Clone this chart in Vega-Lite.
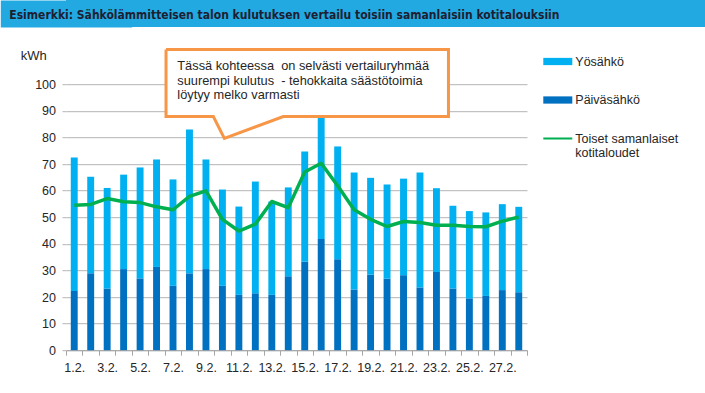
{
  "$schema": "https://vega.github.io/schema/vega-lite/v6.json",
  "padding": 0,
  "background": "#ffffff",
  "columns": 1,
  "spacing": 16.2,
  "config": {
    "view": {"stroke": null},
    "font": "Liberation Sans",
    "axisX": {
      "tickBand": "extent", "labelAngle": 0, "labelOverlap": false,
      "domainColor": "#a6a6a6", "tickColor": "#a6a6a6", "tickSize": 5, "labelPadding": 6,
      "labelFontSize": 12.5, "labelColor": "#262626", "labelFont": "Liberation Sans", "grid": false
    },
    "axisY": {
      "titleAngle": 0, "titleX": -45.7, "titleY": -29, "titleAlign": "left", "titleBaseline": "middle",
      "titleFontSize": 13, "titleFontWeight": "normal", "titleColor": "#262626", "titleFont": "Liberation Sans",
      "grid": true, "gridColor": "#b4b4b4", "domain": false, "ticks": true, "tickSize": 4,
      "tickColor": "#b4b4b4", "labelFontSize": 12.5, "labelColor": "#262626", "labelFont": "Liberation Sans",
      "labelPadding": 6.5, "minExtent": 65.7
    }
  },
  "datasets": {
    "bars": [
      {"day": "1.2.", "type": "Päiväsähkö", "kwh": 22.3}, {"day": "1.2.", "type": "Yösähkö", "kwh": 50.1},
      {"day": "2.2.", "type": "Päiväsähkö", "kwh": 28.9}, {"day": "2.2.", "type": "Yösähkö", "kwh": 36.3},
      {"day": "3.2.", "type": "Päiväsähkö", "kwh": 23.2}, {"day": "3.2.", "type": "Yösähkö", "kwh": 37.8},
      {"day": "4.2.", "type": "Päiväsähkö", "kwh": 30.5}, {"day": "4.2.", "type": "Yösähkö", "kwh": 35.5},
      {"day": "5.2.", "type": "Päiväsähkö", "kwh": 27.0}, {"day": "5.2.", "type": "Yösähkö", "kwh": 41.7},
      {"day": "6.2.", "type": "Päiväsähkö", "kwh": 31.3}, {"day": "6.2.", "type": "Yösähkö", "kwh": 40.4},
      {"day": "7.2.", "type": "Päiväsähkö", "kwh": 24.2}, {"day": "7.2.", "type": "Yösähkö", "kwh": 40.0},
      {"day": "8.2.", "type": "Päiväsähkö", "kwh": 28.9}, {"day": "8.2.", "type": "Yösähkö", "kwh": 54.1},
      {"day": "9.2.", "type": "Päiväsähkö", "kwh": 30.5}, {"day": "9.2.", "type": "Yösähkö", "kwh": 41.2},
      {"day": "10.2.", "type": "Päiväsähkö", "kwh": 24.2}, {"day": "10.2.", "type": "Yösähkö", "kwh": 36.2},
      {"day": "11.2.", "type": "Päiväsähkö", "kwh": 20.8}, {"day": "11.2.", "type": "Yösähkö", "kwh": 33.2},
      {"day": "12.2.", "type": "Päiväsähkö", "kwh": 21.4}, {"day": "12.2.", "type": "Yösähkö", "kwh": 42.0},
      {"day": "13.2.", "type": "Päiväsähkö", "kwh": 20.8}, {"day": "13.2.", "type": "Yösähkö", "kwh": 35.1},
      {"day": "14.2.", "type": "Päiväsähkö", "kwh": 27.8}, {"day": "14.2.", "type": "Yösähkö", "kwh": 33.4},
      {"day": "15.2.", "type": "Päiväsähkö", "kwh": 33.3}, {"day": "15.2.", "type": "Yösähkö", "kwh": 41.4},
      {"day": "16.2.", "type": "Päiväsähkö", "kwh": 41.8}, {"day": "16.2.", "type": "Yösähkö", "kwh": 46.2},
      {"day": "17.2.", "type": "Päiväsähkö", "kwh": 34.2}, {"day": "17.2.", "type": "Yösähkö", "kwh": 42.4},
      {"day": "18.2.", "type": "Päiväsähkö", "kwh": 22.8}, {"day": "18.2.", "type": "Yösähkö", "kwh": 44.0},
      {"day": "19.2.", "type": "Päiväsähkö", "kwh": 28.4}, {"day": "19.2.", "type": "Yösähkö", "kwh": 36.4},
      {"day": "20.2.", "type": "Päiväsähkö", "kwh": 26.9}, {"day": "20.2.", "type": "Yösähkö", "kwh": 35.4},
      {"day": "21.2.", "type": "Päiväsähkö", "kwh": 28.2}, {"day": "21.2.", "type": "Yösähkö", "kwh": 36.3},
      {"day": "22.2.", "type": "Päiväsähkö", "kwh": 23.6}, {"day": "22.2.", "type": "Yösähkö", "kwh": 43.2},
      {"day": "23.2.", "type": "Päiväsähkö", "kwh": 29.4}, {"day": "23.2.", "type": "Yösähkö", "kwh": 31.5},
      {"day": "24.2.", "type": "Päiväsähkö", "kwh": 23.2}, {"day": "24.2.", "type": "Yösähkö", "kwh": 31.1},
      {"day": "25.2.", "type": "Päiväsähkö", "kwh": 19.5}, {"day": "25.2.", "type": "Yösähkö", "kwh": 32.8},
      {"day": "26.2.", "type": "Päiväsähkö", "kwh": 20.4}, {"day": "26.2.", "type": "Yösähkö", "kwh": 31.4},
      {"day": "27.2.", "type": "Päiväsähkö", "kwh": 22.6}, {"day": "27.2.", "type": "Yösähkö", "kwh": 32.3},
      {"day": "28.2.", "type": "Päiväsähkö", "kwh": 21.8}, {"day": "28.2.", "type": "Yösähkö", "kwh": 32.1}
    ],
    "line": [
      {"day": "1.2.", "type": "Toiset samanlaiset kotitaloudet", "kwh": 54.5},
      {"day": "2.2.", "type": "Toiset samanlaiset kotitaloudet", "kwh": 54.8},
      {"day": "3.2.", "type": "Toiset samanlaiset kotitaloudet", "kwh": 57.0},
      {"day": "4.2.", "type": "Toiset samanlaiset kotitaloudet", "kwh": 55.8},
      {"day": "5.2.", "type": "Toiset samanlaiset kotitaloudet", "kwh": 55.5},
      {"day": "6.2.", "type": "Toiset samanlaiset kotitaloudet", "kwh": 53.9},
      {"day": "7.2.", "type": "Toiset samanlaiset kotitaloudet", "kwh": 52.8},
      {"day": "8.2.", "type": "Toiset samanlaiset kotitaloudet", "kwh": 57.8},
      {"day": "9.2.", "type": "Toiset samanlaiset kotitaloudet", "kwh": 59.9},
      {"day": "10.2.", "type": "Toiset samanlaiset kotitaloudet", "kwh": 49.2},
      {"day": "11.2.", "type": "Toiset samanlaiset kotitaloudet", "kwh": 44.8},
      {"day": "12.2.", "type": "Toiset samanlaiset kotitaloudet", "kwh": 47.4},
      {"day": "13.2.", "type": "Toiset samanlaiset kotitaloudet", "kwh": 55.9},
      {"day": "14.2.", "type": "Toiset samanlaiset kotitaloudet", "kwh": 53.6},
      {"day": "15.2.", "type": "Toiset samanlaiset kotitaloudet", "kwh": 67.0},
      {"day": "16.2.", "type": "Toiset samanlaiset kotitaloudet", "kwh": 70.3},
      {"day": "17.2.", "type": "Toiset samanlaiset kotitaloudet", "kwh": 61.8},
      {"day": "18.2.", "type": "Toiset samanlaiset kotitaloudet", "kwh": 52.8},
      {"day": "19.2.", "type": "Toiset samanlaiset kotitaloudet", "kwh": 49.2},
      {"day": "20.2.", "type": "Toiset samanlaiset kotitaloudet", "kwh": 46.5},
      {"day": "21.2.", "type": "Toiset samanlaiset kotitaloudet", "kwh": 48.4},
      {"day": "22.2.", "type": "Toiset samanlaiset kotitaloudet", "kwh": 48.0},
      {"day": "23.2.", "type": "Toiset samanlaiset kotitaloudet", "kwh": 47.0},
      {"day": "24.2.", "type": "Toiset samanlaiset kotitaloudet", "kwh": 47.0},
      {"day": "25.2.", "type": "Toiset samanlaiset kotitaloudet", "kwh": 46.5},
      {"day": "26.2.", "type": "Toiset samanlaiset kotitaloudet", "kwh": 46.4},
      {"day": "27.2.", "type": "Toiset samanlaiset kotitaloudet", "kwh": 48.5},
      {"day": "28.2.", "type": "Toiset samanlaiset kotitaloudet", "kwh": 50.1}
    ],
    "callout": [
      {"i": 0, "x": 6.075, "y": 113.05},
      {"i": 1, "x": 23.23, "y": 113.05},
      {"i": 2, "x": 23.23, "y": 87.86},
      {"i": 3, "x": 13.2, "y": 87.86},
      {"i": 4, "x": 9.62, "y": 79.59},
      {"i": 5, "x": 8.95, "y": 87.86},
      {"i": 6, "x": 6.075, "y": 87.86},
      {"i": 7, "x": 6.075, "y": 113.05}
    ],
    "box": [{"x1": 6.075, "x2": 23.23, "y1": 87.86, "y2": 113.05}],
    "note": [{"x": 6.76, "y": 109.0, "note": "Tässä kohteessa \u00a0on selvästi vertailuryhmää\nsuurempi kulutus \u00a0- tehokkaita säästötoimia\nlöytyy melko varmasti"}]
  },
  "concat": [
    {
      "width": 639.3,
      "height": 27,
      "view": {"fill": "#22a9e1", "stroke": null},
      "title": {
        "text": "Esimerkki: Sähkölämmitteisen talon kulutuksen vertailu toisiin samanlaisiin kotitalouksiin",
        "anchor": "start",
        "frame": "group",
        "orient": "top",
        "offset": 0,
        "dx": -56.7,
        "dy": 27,
        "baseline": "middle",
        "font": "Liberation Sans Narrow, DejaVu Sans Condensed, sans-serif",
        "fontSize": 12,
        "fontWeight": "bold",
        "color": "#1e1e32",
        "zindex": 1
      },
      "data": {"values": [{"osa": "otsikko"}]},
      "mark": {"type": "rect", "opacity": 0},
      "encoding": {
        "y": {
          "field": "osa", "type": "nominal",
          "axis": {
            "title": null, "labels": false, "ticks": false, "grid": false,
            "domain": true, "domainColor": "#22a9e1", "domainWidth": 131.4,
            "domainCap": "butt", "minExtent": 0
          }
        }
      }
    },
    {
      "width": 461,
      "height": 266,
      "resolve": {"scale": {"x": "independent"}},
      "layer": [
        {
          "layer": [
            {
              "data": {"name": "bars"},
              "mark": {"type": "bar", "width": {"band": 0.42}},
              "encoding": {
                "x": {
                  "field": "day", "type": "ordinal", "sort": null,
                  "scale": {"paddingInner": 0, "paddingOuter": 0},
                  "axis": {"title": null, "labelExpr": "parseInt(datum.value) % 2 == 1 ? datum.value : ''"}
                },
                "y": {
                  "field": "kwh", "type": "quantitative", "stack": "zero",
                  "scale": {"domain": [0, 100], "nice": false},
                  "axis": {"title": "kWh", "values": [0, 10, 20, 30, 40, 50, 60, 70, 80, 90, 100]}
                },
                "order": {"field": "type", "sort": "ascending"},
                "color": {
                  "field": "type", "type": "nominal",
                  "scale": {
                    "domain": ["Yösähkö", "Päiväsähkö", "Toiset samanlaiset kotitaloudet"],
                    "range": ["#00b0f0", "#0070c0", "#00b050"]
                  },
                  "legend": {
                    "title": null, "orient": "none", "legendX": 477.3, "legendY": 47,
                    "padding": 0, "labelFontSize": 12.5, "labelColor": "#262626",
                    "labelFont": "Liberation Sans", "symbolSize": 841,
                    "symbolType": "M-1,-0.25H1V0.25H-1Z", "symbolStrokeWidth": 0,
                    "labelOffset": 3, "rowPadding": 17.5,
                    "labelExpr": "datum.label == 'Toiset samanlaiset kotitaloudet' ? ['Toiset samanlaiset', 'kotitaloudet'] : datum.label",
                    "encode": {
                      "symbols": {
                        "update": {
                          "fill": {"scale": "color", "field": "value"},
                          "shape": {"signal": "datum.value === 'Toiset samanlaiset kotitaloudet' ? 'M-1,-0.07H1V0.07H-1Z' : 'M-1,-0.25H1V0.25H-1Z'"},
                          "strokeWidth": {"value": 0},
                          "opacity": {"value": 1}
                        }
                      }
                    }
                  }
                }
              }
            },
            {
              "data": {"name": "line"},
              "mark": {"type": "line", "strokeWidth": 3.5, "strokeJoin": "round"},
              "encoding": {
                "x": {
                  "field": "day", "type": "ordinal", "sort": null,
                  "axis": {"title": null, "labelExpr": "parseInt(datum.value) % 2 == 1 ? datum.value : ''"}
                },
                "y": {
                  "field": "kwh", "type": "quantitative",
                  "scale": {"domain": [0, 100], "nice": false},
                  "axis": {"title": "kWh", "values": [0, 10, 20, 30, 40, 50, 60, 70, 80, 90, 100]}
                },
                "color": {
                  "field": "type", "type": "nominal",
                  "scale": {
                    "domain": ["Yösähkö", "Päiväsähkö", "Toiset samanlaiset kotitaloudet"],
                    "range": ["#00b0f0", "#0070c0", "#00b050"]
                  }
                }
              }
            }
          ]
        },
        {
          "layer": [
            {
              "data": {"name": "box"},
              "mark": {"type": "rect", "fill": "#ffffff"},
              "encoding": {
                "x": {"field": "x1", "type": "quantitative", "scale": {"domain": [0, 28], "nice": false, "zero": false}, "axis": null},
                "x2": {"field": "x2"},
                "y": {
                  "field": "y1", "type": "quantitative",
                  "scale": {"domain": [0, 100], "nice": false},
                  "axis": {"title": "kWh", "values": [0, 10, 20, 30, 40, 50, 60, 70, 80, 90, 100]}
                },
                "y2": {"field": "y2"}
              }
            },
            {
              "data": {"name": "callout"},
              "mark": {"type": "line", "stroke": "#f79646", "strokeWidth": 3, "strokeJoin": "miter"},
              "encoding": {
                "x": {"field": "x", "type": "quantitative", "scale": {"domain": [0, 28], "nice": false, "zero": false}, "axis": null},
                "y": {
                  "field": "y", "type": "quantitative",
                  "scale": {"domain": [0, 100], "nice": false},
                  "axis": {"title": "kWh", "values": [0, 10, 20, 30, 40, 50, 60, 70, 80, 90, 100]}
                },
                "order": {"field": "i", "type": "quantitative"}
              }
            },
            {
              "data": {"name": "note"},
              "mark": {"type": "text", "align": "left", "baseline": "top", "lineBreak": "\n", "lineHeight": 14.5, "fontSize": 12.8, "font": "Liberation Sans", "color": "#262626"},
              "encoding": {
                "x": {"field": "x", "type": "quantitative", "scale": {"domain": [0, 28], "nice": false, "zero": false}, "axis": null},
                "y": {
                  "field": "y", "type": "quantitative",
                  "scale": {"domain": [0, 100], "nice": false},
                  "axis": {"title": "kWh", "values": [0, 10, 20, 30, 40, 50, 60, 70, 80, 90, 100]}
                },
                "text": {"field": "note"}
              }
            }
          ]
        }
      ]
    }
  ]
}
